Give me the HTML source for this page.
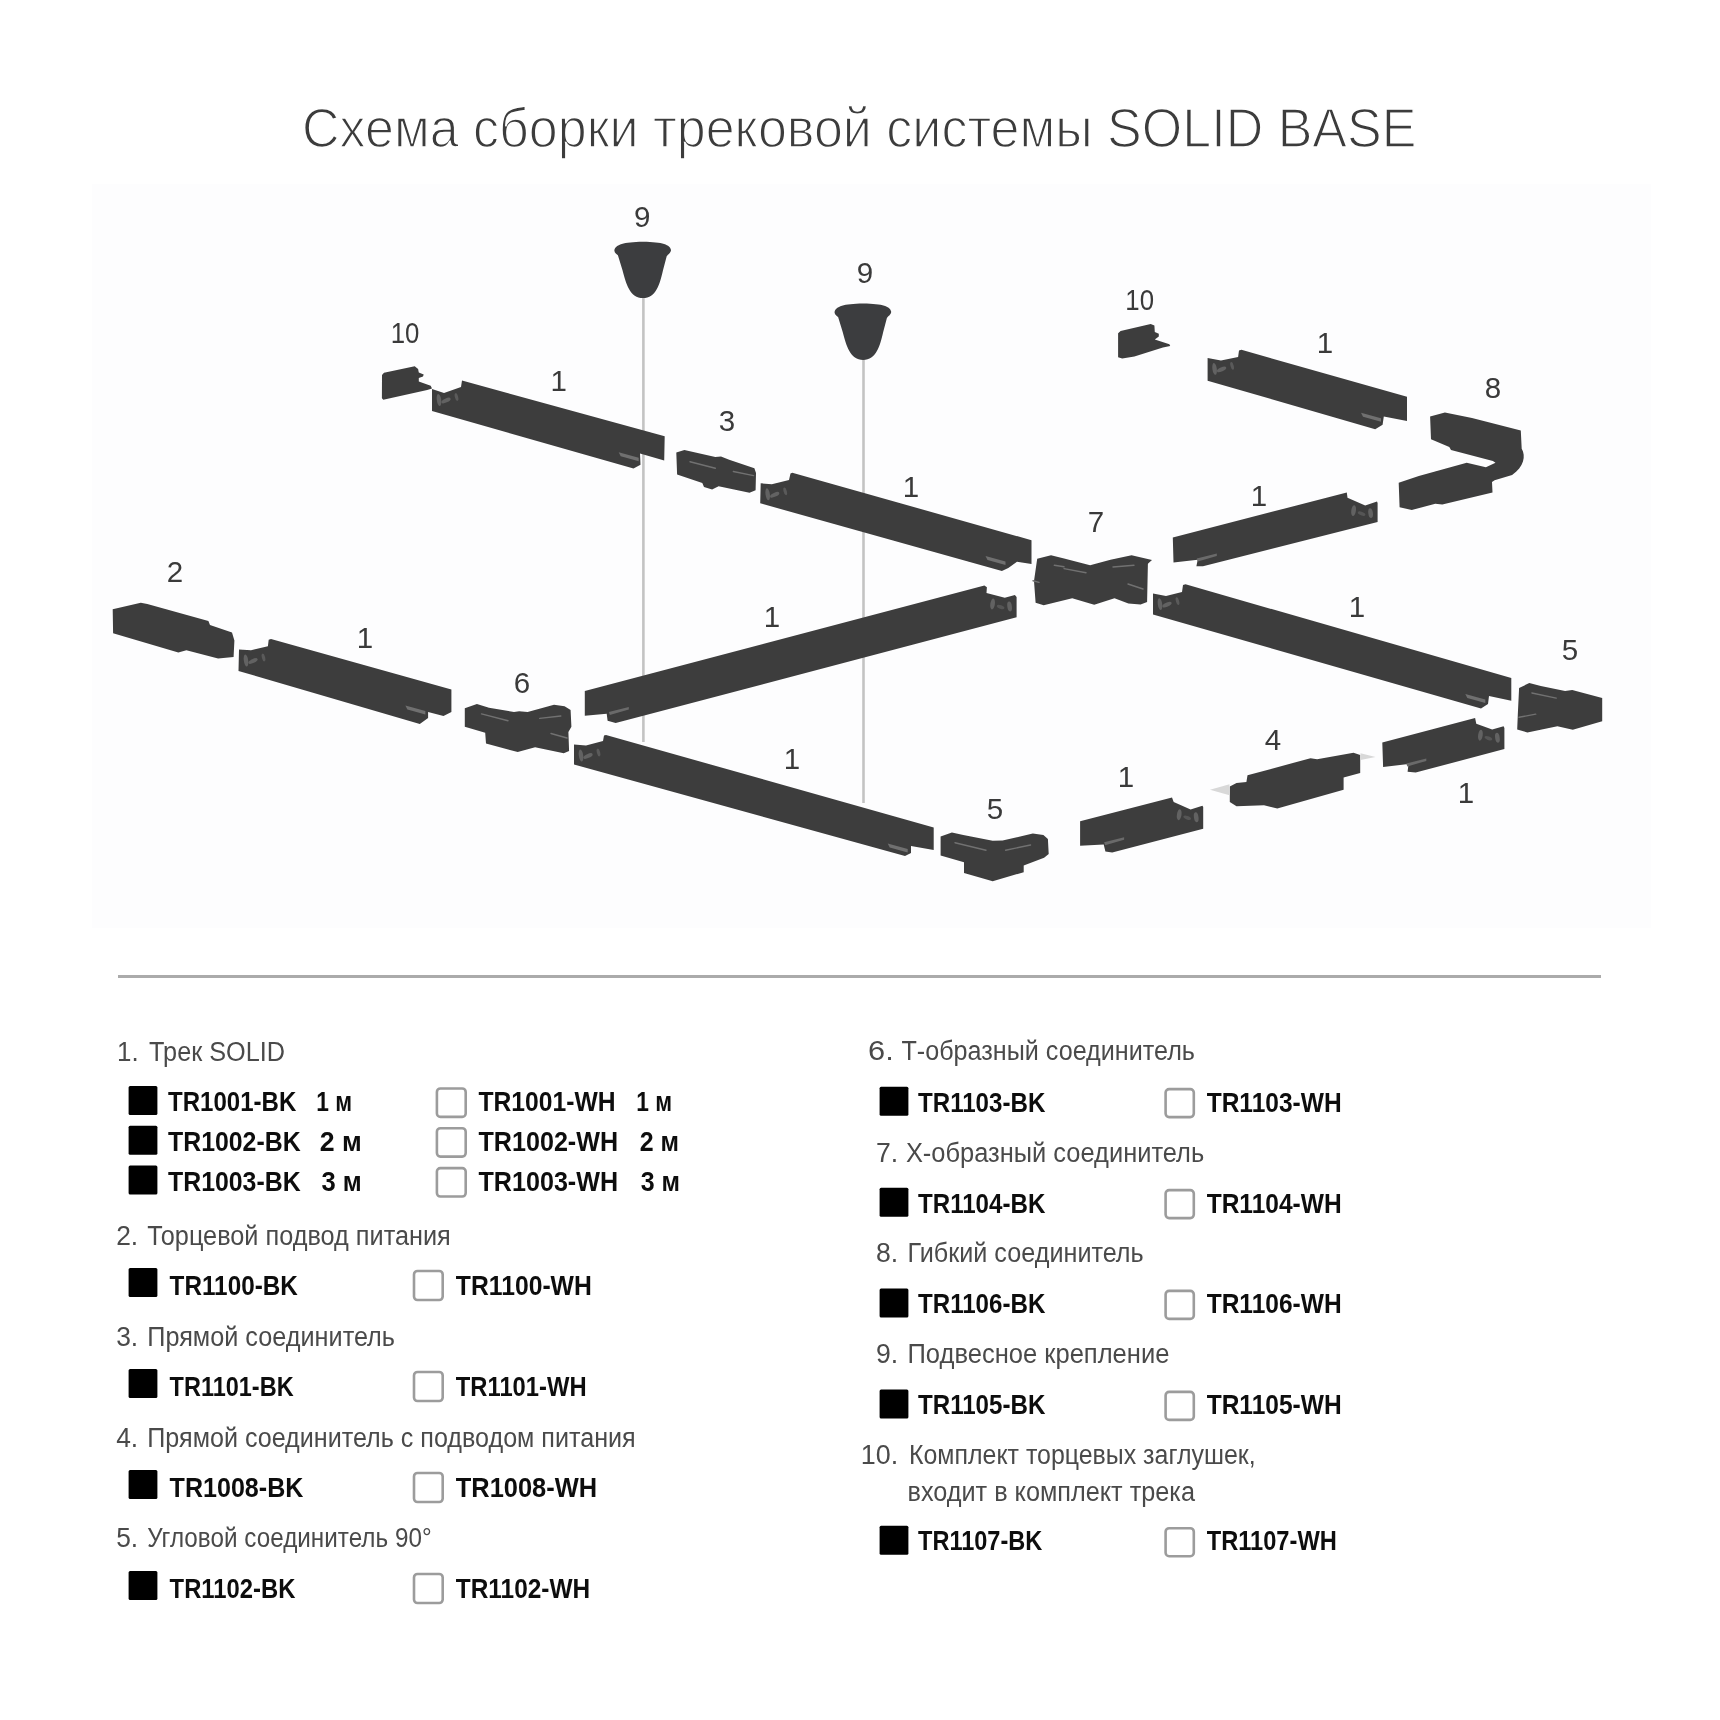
<!DOCTYPE html>
<html><head><meta charset="utf-8"><style>
html,body{margin:0;padding:0;background:#fff;}
body{width:1720px;height:1720px;overflow:hidden;}
svg{display:block;will-change:transform;}
text{font-family:"Liberation Sans",sans-serif;}
.title{font-size:56px;fill:#3c3c3c;stroke:#fff;stroke-width:1.5px;paint-order:normal;}
.lab{font-size:29.5px;fill:#3a3a3a;}
.hd{font-size:27px;fill:#4a4a4a;}
.cd{font-size:28px;font-weight:bold;fill:#0d0d0d;}
</style></head><body>
<svg width="1720" height="1720" viewBox="0 0 1720 1720">
<rect x="0" y="0" width="1720" height="1720" fill="#fff"/>
<rect x="92" y="184" width="1559" height="744" fill="#fdfdfe"/>
<rect x="118" y="975" width="1483" height="3" fill="#ababab"/>
<line x1="643.4" y1="296" x2="643.4" y2="742" stroke="#c3c3c3" stroke-width="2.6"/>
<line x1="863.5" y1="356" x2="863.5" y2="803" stroke="#c3c3c3" stroke-width="2.6"/>
<path d="M614.4,250.0 C616.0,244.8 623.0,242.1 643.0,241.8 C663.0,242.1 670.0,244.8 671.0,250.0 C671.0,252.8 667.5,254.8 666.7,256.2 L663.0,270.2 C660.0,283.8 656.0,298.1 643.0,298.1 C630.0,298.1 626.0,283.8 622.5,270.2 L617.9,255.3 C617.0,254.3 614.0,252.8 614.4,250.0 Z" fill="#3c3d3f"/>
<path d="M834.6,311.8 C836.2,306.6 843.2,303.9 863.2,303.6 C883.2,303.9 890.2,306.6 891.2,311.8 C891.2,314.6 887.7,316.6 886.9,318.0 L883.2,332.0 C880.2,345.6 876.2,359.9 863.2,359.9 C850.2,359.9 846.2,345.6 842.7,332.0 L838.1,317.1 C837.2,316.1 834.2,314.6 834.6,311.8 Z" fill="#3c3d3f"/>
<polygon points="382.0,375.0 384.0,372.8 414.7,366.2 418.1,369.0 418.8,372.4 423.7,374.5 423.0,376.6 418.8,378.0 418.8,381.5 430.7,385.7 432.0,388.5 427.2,389.9 383.3,399.7 381.9,398.3" fill="#3d3d3d"/>
<polygon points="432.0,389.0 444.0,393.0 461.0,387.0 462.0,380.5 664.7,436.3 664.2,460.5 640.0,453.5 640.5,464.7 633.5,468.4 432.0,411.0" fill="#3d3d3d"/>
<polygon points="676.3,452.4 684.4,450.0 715.3,456.9 721.0,456.5 729.2,459.7 754.4,468.3 756.0,473.1 755.6,490.2 749.5,492.7 718.6,486.2 712.1,489.4 704.0,487.0 702.3,482.9 677.1,474.4" fill="#3d3d3d"/>
<polygon points="760.7,483.3 771.9,484.2 789.0,480.0 790.5,473.5 792.3,472.8 1031.5,540.2 1031.5,564.0 1017.0,561.7 1008.3,568.1 1001.9,571.0 760.2,503.3" fill="#3d3d3d"/>
<polygon points="1037.2,558.8 1051.0,555.2 1064.1,558.4 1090.1,565.3 1110.5,559.7 1131.6,555.2 1152.0,560.1 1147.9,563.7 1147.1,602.0 1140.6,604.4 1128.4,603.6 1114.5,598.3 1094.2,604.8 1072.2,598.3 1043.7,605.2 1035.6,602.8 1034.0,581.0" fill="#3d3d3d"/>
<polygon points="1172.8,537.6 1346.8,492.4 1347.5,497.7 1365.2,505.5 1377.0,501.6 1377.6,503.0 1377.6,521.9 1203.0,566.3 1196.4,566.3 1197.7,559.8 1173.5,562.4" fill="#3d3d3d"/>
<polygon points="1118.1,333.3 1120.6,330.9 1150.7,324.0 1154.4,325.6 1154.8,332.1 1158.8,333.7 1158.8,336.6 1154.8,339.4 1169.4,344.3 1170.2,345.9 1162.9,347.6 1134.4,356.5 1122.2,358.5 1118.1,357.3" fill="#3d3d3d"/>
<polygon points="1207.6,357.9 1221.0,360.4 1238.1,357.1 1239.0,350.6 1241.4,349.8 1407.0,396.7 1407.0,421.1 1383.8,416.6 1382.6,424.8 1375.2,429.2 1207.6,380.7" fill="#3d3d3d"/>
<polygon points="584.8,691.0 984.4,585.6 986.9,587.2 986.5,592.9 1004.8,597.8 1014.9,595.0 1016.6,597.0 1016.6,617.3 615.7,723.1 607.6,720.7 606.7,713.8 584.8,715.8" fill="#3d3d3d"/>
<polygon points="1153.0,593.4 1166.0,596.0 1182.0,592.0 1183.0,585.0 1185.5,584.3 1511.3,678.0 1511.3,700.7 1489.0,696.0 1488.0,704.0 1481.0,708.5 1153.0,614.5" fill="#3d3d3d"/>
<polygon points="112.7,609.2 140.8,602.7 147.3,604.0 208.4,621.0 210.0,625.1 232.0,632.4 234.4,640.6 233.6,656.9 218.1,658.5 186.4,650.3 178.3,652.4 113.1,633.3" fill="#3d3d3d"/>
<polygon points="239.0,649.5 251.0,650.3 267.9,646.3 268.7,639.8 271.0,639.0 451.4,689.5 451.4,712.0 443.5,716.0 428.1,712.0 428.1,718.0 419.8,724.0 238.5,671.0" fill="#3d3d3d"/>
<polygon points="464.8,708.2 476.9,704.1 489.0,707.8 514.0,712.0 519.2,711.3 527.6,712.0 554.0,704.8 564.6,706.3 570.6,710.1 571.4,726.7 568.4,732.0 569.1,751.0 563.8,753.2 535.1,747.2 517.7,752.1 486.0,743.4 485.2,732.8 464.8,726.7" fill="#3d3d3d"/>
<polygon points="574.0,744.5 586.0,745.5 603.0,741.0 604.0,735.5 606.0,735.0 933.7,827.4 933.7,850.0 911.0,846.0 911.0,853.0 905.0,856.0 574.0,764.5" fill="#3d3d3d"/>
<polygon points="940.6,836.6 951.9,832.5 963.3,835.1 992.7,840.8 1002.6,840.4 1032.8,833.6 1043.4,835.1 1047.9,838.9 1048.7,854.0 1044.1,857.8 1023.7,865.4 1023.7,872.2 992.7,881.2 964.0,872.9 964.0,862.3 940.6,855.5" fill="#3d3d3d"/>
<polygon points="1080.1,821.3 1172.0,797.6 1173.7,801.9 1190.6,809.4 1202.4,805.7 1203.2,807.0 1203.2,828.8 1112.2,852.4 1105.4,851.6 1103.7,844.5 1080.1,845.7" fill="#3d3d3d"/>
<polygon points="1229.8,786.4 1236.5,783.1 1246.4,782.0 1247.5,775.3 1310.5,758.2 1317.1,759.3 1353.5,752.7 1360.2,754.9 1360.2,773.1 1343.6,777.6 1343.6,789.7 1277.3,808.5 1264.0,805.2 1236.5,806.3 1229.8,801.9" fill="#3d3d3d"/>
<polygon points="1382.3,742.4 1475.1,718.0 1476.3,723.7 1492.2,729.4 1503.6,726.2 1504.4,728.0 1504.4,749.0 1415.7,772.6 1407.6,771.7 1408.5,764.0 1383.1,766.9" fill="#3d3d3d"/>
<polygon points="1519.1,687.9 1529.3,683.1 1540.8,686.0 1565.1,691.1 1572.2,690.1 1602.2,698.1 1602.2,721.2 1572.8,729.8 1557.4,726.3 1527.4,732.4 1517.2,729.5 1517.8,714.8" fill="#3d3d3d"/>
<ellipse cx="439.0" cy="400.0" rx="2.2" ry="6.0" fill="#626262" transform="rotate(-8.0 439.0 400.0)"/>
<ellipse cx="446.0" cy="400.5" rx="5.0" ry="2.0" fill="#626262" transform="rotate(-25.0 446.0 400.5)"/>
<ellipse cx="456.5" cy="397.0" rx="1.6" ry="4.0" fill="#5a5a5a" transform="rotate(-15.0 456.5 397.0)"/>
<ellipse cx="767.7" cy="494.3" rx="2.2" ry="6.0" fill="#626262" transform="rotate(-8.0 767.7 494.3)"/>
<ellipse cx="774.7" cy="494.8" rx="5.0" ry="2.0" fill="#626262" transform="rotate(-25.0 774.7 494.8)"/>
<ellipse cx="785.2" cy="491.3" rx="1.6" ry="4.0" fill="#5a5a5a" transform="rotate(-15.0 785.2 491.3)"/>
<ellipse cx="1214.6" cy="368.9" rx="2.2" ry="6.0" fill="#626262" transform="rotate(-8.0 1214.6 368.9)"/>
<ellipse cx="1221.6" cy="369.4" rx="5.0" ry="2.0" fill="#626262" transform="rotate(-25.0 1221.6 369.4)"/>
<ellipse cx="1232.1" cy="365.9" rx="1.6" ry="4.0" fill="#5a5a5a" transform="rotate(-15.0 1232.1 365.9)"/>
<ellipse cx="1160.0" cy="604.1" rx="2.2" ry="6.0" fill="#626262" transform="rotate(-8.0 1160.0 604.1)"/>
<ellipse cx="1167.0" cy="604.6" rx="5.0" ry="2.0" fill="#626262" transform="rotate(-25.0 1167.0 604.6)"/>
<ellipse cx="1177.5" cy="601.1" rx="1.6" ry="4.0" fill="#5a5a5a" transform="rotate(-15.0 1177.5 601.1)"/>
<ellipse cx="246.0" cy="660.5" rx="2.2" ry="6.0" fill="#626262" transform="rotate(-8.0 246.0 660.5)"/>
<ellipse cx="253.0" cy="661.0" rx="5.0" ry="2.0" fill="#626262" transform="rotate(-25.0 253.0 661.0)"/>
<ellipse cx="263.5" cy="657.5" rx="1.6" ry="4.0" fill="#5a5a5a" transform="rotate(-15.0 263.5 657.5)"/>
<ellipse cx="581.0" cy="755.5" rx="2.2" ry="6.0" fill="#626262" transform="rotate(-8.0 581.0 755.5)"/>
<ellipse cx="588.0" cy="756.0" rx="5.0" ry="2.0" fill="#626262" transform="rotate(-25.0 588.0 756.0)"/>
<ellipse cx="598.5" cy="752.5" rx="1.6" ry="4.0" fill="#5a5a5a" transform="rotate(-15.0 598.5 752.5)"/>
<ellipse cx="1353.6" cy="510.6" rx="2.3" ry="5.5" fill="#626262" transform="rotate(8.0 1353.6 510.6)"/>
<ellipse cx="1370.6" cy="513.1" rx="2.3" ry="5.0" fill="#626262" transform="rotate(-8.0 1370.6 513.1)"/>
<ellipse cx="1361.6" cy="513.6" rx="4.0" ry="1.8" fill="#555" transform="rotate(20.0 1361.6 513.6)"/>
<ellipse cx="992.6" cy="604.0" rx="2.3" ry="5.5" fill="#626262" transform="rotate(8.0 992.6 604.0)"/>
<ellipse cx="1009.6" cy="606.5" rx="2.3" ry="5.0" fill="#626262" transform="rotate(-8.0 1009.6 606.5)"/>
<ellipse cx="1000.6" cy="607.0" rx="4.0" ry="1.8" fill="#555" transform="rotate(20.0 1000.6 607.0)"/>
<ellipse cx="1179.2" cy="814.7" rx="2.3" ry="5.5" fill="#626262" transform="rotate(8.0 1179.2 814.7)"/>
<ellipse cx="1196.2" cy="817.2" rx="2.3" ry="5.0" fill="#626262" transform="rotate(-8.0 1196.2 817.2)"/>
<ellipse cx="1187.2" cy="817.7" rx="4.0" ry="1.8" fill="#555" transform="rotate(20.0 1187.2 817.7)"/>
<ellipse cx="1480.4" cy="735.2" rx="2.3" ry="5.5" fill="#626262" transform="rotate(8.0 1480.4 735.2)"/>
<ellipse cx="1497.4" cy="737.7" rx="2.3" ry="5.0" fill="#626262" transform="rotate(-8.0 1497.4 737.7)"/>
<ellipse cx="1488.4" cy="738.2" rx="4.0" ry="1.8" fill="#555" transform="rotate(20.0 1488.4 738.2)"/>
<polygon points="618.7,452.3 638.7,457.8 638.7,461.3 620.7,456.3" fill="#707070"/>
<polygon points="985.5,556.0 1005.5,561.5 1005.5,565.0 987.5,560.0" fill="#707070"/>
<polygon points="1361.0,412.7 1381.0,418.2 1381.0,421.7 1363.0,416.7" fill="#707070"/>
<polygon points="1465.3,694.0 1485.3,699.5 1485.3,703.0 1467.3,698.0" fill="#707070"/>
<polygon points="405.4,705.5 425.4,711.0 425.4,714.5 407.4,709.5" fill="#707070"/>
<polygon points="887.7,843.4 907.7,848.9 907.7,852.4 889.7,847.4" fill="#707070"/>
<polygon points="608.8,712.0 628.8,707.0 628.8,709.5 609.8,715.0" fill="#6a6a6a"/>
<polygon points="1104.1,842.3 1124.1,837.3 1124.1,839.8 1105.1,845.3" fill="#6a6a6a"/>
<polygon points="1406.3,763.4 1426.3,758.4 1426.3,760.9 1407.3,766.4" fill="#6a6a6a"/>
<polygon points="1196.8,558.6 1216.8,553.6 1216.8,556.1 1197.8,561.6" fill="#6a6a6a"/>
<line x1="1054.3" y1="565.3" x2="1064.0" y2="566.8" stroke="#717171" stroke-width="1.4" stroke-linecap="round"/>
<line x1="1064.0" y1="568.6" x2="1086.0" y2="572.7" stroke="#717171" stroke-width="1.4" stroke-linecap="round"/>
<line x1="1113.0" y1="567.0" x2="1134.0" y2="565.3" stroke="#717171" stroke-width="1.4" stroke-linecap="round"/>
<line x1="1128.0" y1="584.0" x2="1143.0" y2="589.0" stroke="#717171" stroke-width="1.4" stroke-linecap="round"/>
<line x1="1033.0" y1="580.8" x2="1039.0" y2="582.4" stroke="#717171" stroke-width="1.4" stroke-linecap="round"/>
<line x1="481.5" y1="713.9" x2="508.0" y2="720.7" stroke="#717171" stroke-width="1.4" stroke-linecap="round"/>
<line x1="539.7" y1="718.4" x2="560.8" y2="716.0" stroke="#717171" stroke-width="1.4" stroke-linecap="round"/>
<line x1="551.0" y1="733.5" x2="567.0" y2="738.0" stroke="#717171" stroke-width="1.4" stroke-linecap="round"/>
<line x1="955.0" y1="842.7" x2="986.0" y2="850.2" stroke="#717171" stroke-width="1.4" stroke-linecap="round"/>
<line x1="1005.6" y1="850.2" x2="1030.5" y2="845.0" stroke="#717171" stroke-width="1.4" stroke-linecap="round"/>
<line x1="1531.9" y1="693.0" x2="1556.2" y2="698.1" stroke="#717171" stroke-width="1.4" stroke-linecap="round"/>
<line x1="1519.0" y1="717.3" x2="1535.7" y2="714.1" stroke="#717171" stroke-width="1.4" stroke-linecap="round"/>
<line x1="690.0" y1="461.7" x2="715.3" y2="468.3" stroke="#717171" stroke-width="1.4" stroke-linecap="round"/>
<line x1="733.3" y1="471.5" x2="753.6" y2="475.6" stroke="#717171" stroke-width="1.4" stroke-linecap="round"/>
<path d="M1430.1,416.6 L1444.9,412.6 L1472,417.9 L1520.8,430.5 L1521.7,448.8 C1526,456 1524,467 1512.1,475 L1494.6,480.2 L1492,482 L1492.5,492.4 L1442.3,504.6 L1435.3,503.8 L1411.8,509.9 L1399.6,507.3 L1398.7,482.8 L1418.8,475.9 L1466.7,462.8 L1485.9,467.2 L1495.5,462.8 L1492.9,461 L1451,450.1 L1449.3,447.1 L1431,439.2 Z" fill="#3d3d3d"/>
<polygon points="1210,789.7 1229.5,784.2 1229.5,795.2" fill="#d8d8d8"/>
<polygon points="1360.5,753.3 1375.6,757.1 1360.5,760" fill="#d8d8d8"/>
<text x="642.2" y="226.5" text-anchor="middle" class="lab">9</text>
<text x="865.0" y="282.5" text-anchor="middle" class="lab">9</text>
<text x="405.0" y="342.5" text-anchor="middle" class="lab" textLength="28.7" lengthAdjust="spacingAndGlyphs">10</text>
<text x="558.6" y="390.5" text-anchor="middle" class="lab">1</text>
<text x="727.0" y="430.5" text-anchor="middle" class="lab">3</text>
<text x="911.0" y="496.5" text-anchor="middle" class="lab">1</text>
<text x="1096.0" y="531.5" text-anchor="middle" class="lab">7</text>
<text x="1139.7" y="309.5" text-anchor="middle" class="lab" textLength="28.7" lengthAdjust="spacingAndGlyphs">10</text>
<text x="1325.0" y="352.5" text-anchor="middle" class="lab">1</text>
<text x="1493.0" y="397.5" text-anchor="middle" class="lab">8</text>
<text x="1259.0" y="505.5" text-anchor="middle" class="lab">1</text>
<text x="175.0" y="581.5" text-anchor="middle" class="lab">2</text>
<text x="365.0" y="647.5" text-anchor="middle" class="lab">1</text>
<text x="772.0" y="626.5" text-anchor="middle" class="lab">1</text>
<text x="1357.0" y="616.5" text-anchor="middle" class="lab">1</text>
<text x="522.0" y="692.5" text-anchor="middle" class="lab">6</text>
<text x="1570.0" y="659.5" text-anchor="middle" class="lab">5</text>
<text x="792.0" y="768.5" text-anchor="middle" class="lab">1</text>
<text x="1273.0" y="749.5" text-anchor="middle" class="lab">4</text>
<text x="995.0" y="818.5" text-anchor="middle" class="lab">5</text>
<text x="1126.0" y="786.5" text-anchor="middle" class="lab">1</text>
<text x="1466.0" y="802.5" text-anchor="middle" class="lab">1</text>
<rect x="128.6" y="1086.0" width="28.8" height="29.0" rx="1.5" fill="#000"/>
<rect x="436.9" y="1088.5" width="28.8" height="28.4" rx="3.5" fill="none" stroke="#9c9c9c" stroke-width="2.6"/>
<rect x="128.6" y="1125.7" width="28.8" height="29.0" rx="1.5" fill="#000"/>
<rect x="436.9" y="1128.2" width="28.8" height="28.4" rx="3.5" fill="none" stroke="#9c9c9c" stroke-width="2.6"/>
<rect x="128.6" y="1165.6" width="28.8" height="29.0" rx="1.5" fill="#000"/>
<rect x="436.9" y="1168.1" width="28.8" height="28.4" rx="3.5" fill="none" stroke="#9c9c9c" stroke-width="2.6"/>
<rect x="128.6" y="1268.0" width="28.8" height="29.0" rx="1.5" fill="#000"/>
<rect x="414.0" y="1271.0" width="28.7" height="29.0" rx="3.5" fill="none" stroke="#9c9c9c" stroke-width="2.6"/>
<rect x="128.6" y="1369.0" width="28.8" height="29.0" rx="1.5" fill="#000"/>
<rect x="414.0" y="1372.0" width="28.7" height="29.0" rx="3.5" fill="none" stroke="#9c9c9c" stroke-width="2.6"/>
<rect x="128.6" y="1470.0" width="28.8" height="29.0" rx="1.5" fill="#000"/>
<rect x="414.0" y="1473.0" width="28.7" height="29.0" rx="3.5" fill="none" stroke="#9c9c9c" stroke-width="2.6"/>
<rect x="128.6" y="1571.0" width="28.8" height="29.0" rx="1.5" fill="#000"/>
<rect x="414.0" y="1574.0" width="28.7" height="29.0" rx="3.5" fill="none" stroke="#9c9c9c" stroke-width="2.6"/>
<rect x="879.6" y="1086.7" width="28.8" height="29.0" rx="1.5" fill="#000"/>
<rect x="1165.6" y="1089.1" width="28.2" height="28.0" rx="3.5" fill="none" stroke="#9c9c9c" stroke-width="2.6"/>
<rect x="879.6" y="1187.7" width="28.8" height="29.0" rx="1.5" fill="#000"/>
<rect x="1165.6" y="1190.1" width="28.2" height="28.0" rx="3.5" fill="none" stroke="#9c9c9c" stroke-width="2.6"/>
<rect x="879.6" y="1288.5" width="28.8" height="29.0" rx="1.5" fill="#000"/>
<rect x="1165.6" y="1290.9" width="28.2" height="28.0" rx="3.5" fill="none" stroke="#9c9c9c" stroke-width="2.6"/>
<rect x="879.6" y="1389.5" width="28.8" height="29.0" rx="1.5" fill="#000"/>
<rect x="1165.6" y="1391.9" width="28.2" height="28.0" rx="3.5" fill="none" stroke="#9c9c9c" stroke-width="2.6"/>
<rect x="879.6" y="1525.8" width="28.8" height="29.0" rx="1.5" fill="#000"/>
<rect x="1165.6" y="1528.2" width="28.2" height="28.0" rx="3.5" fill="none" stroke="#9c9c9c" stroke-width="2.6"/>
<text x="302.0" y="147.0" class="title" textLength="1114.4" lengthAdjust="spacingAndGlyphs">Схема сборки трековой системы SOLID BASE</text>
<text x="117.1" y="1061.4" class="hd" textLength="21.6" lengthAdjust="spacingAndGlyphs">1.</text>
<text x="149.1" y="1061.4" class="hd" textLength="135.9" lengthAdjust="spacingAndGlyphs">Трек SOLID</text>
<text x="116.2" y="1244.5" class="hd" textLength="22.0" lengthAdjust="spacingAndGlyphs">2.</text>
<text x="147.3" y="1244.5" class="hd" textLength="303.5" lengthAdjust="spacingAndGlyphs">Торцевой подвод питания</text>
<text x="116.2" y="1346.0" class="hd" textLength="22.0" lengthAdjust="spacingAndGlyphs">3.</text>
<text x="147.3" y="1346.0" class="hd" textLength="247.7" lengthAdjust="spacingAndGlyphs">Прямой соединитель</text>
<text x="116.2" y="1446.6" class="hd" textLength="22.0" lengthAdjust="spacingAndGlyphs">4.</text>
<text x="147.3" y="1446.6" class="hd" textLength="488.4" lengthAdjust="spacingAndGlyphs">Прямой соединитель с подводом питания</text>
<text x="116.2" y="1546.7" class="hd" textLength="22.0" lengthAdjust="spacingAndGlyphs">5.</text>
<text x="147.3" y="1546.7" class="hd" textLength="284.3" lengthAdjust="spacingAndGlyphs">Угловой соединитель 90°</text>
<text x="868.0" y="1060.2" class="hd" textLength="25.7" lengthAdjust="spacingAndGlyphs">6.</text>
<text x="901.4" y="1060.2" class="hd" textLength="293.6" lengthAdjust="spacingAndGlyphs">Т-образный соединитель</text>
<text x="876.0" y="1161.5" class="hd" textLength="22.2" lengthAdjust="spacingAndGlyphs">7.</text>
<text x="905.9" y="1161.5" class="hd" textLength="298.3" lengthAdjust="spacingAndGlyphs">Х-образный соединитель</text>
<text x="876.0" y="1261.7" class="hd" textLength="22.2" lengthAdjust="spacingAndGlyphs">8.</text>
<text x="907.5" y="1261.7" class="hd" textLength="236.2" lengthAdjust="spacingAndGlyphs">Гибкий соединитель</text>
<text x="876.0" y="1363.0" class="hd" textLength="22.2" lengthAdjust="spacingAndGlyphs">9.</text>
<text x="907.5" y="1363.0" class="hd" textLength="261.9" lengthAdjust="spacingAndGlyphs">Подвесное крепление</text>
<text x="860.8" y="1463.9" class="hd" textLength="37.4" lengthAdjust="spacingAndGlyphs">10.</text>
<text x="909.0" y="1463.9" class="hd" textLength="346.6" lengthAdjust="spacingAndGlyphs">Комплект торцевых заглушек,</text>
<text x="907.5" y="1501.0" class="hd" textLength="287.5" lengthAdjust="spacingAndGlyphs">входит в комплект трека</text>
<text x="168.0" y="1111.2" class="cd" textLength="128.3" lengthAdjust="spacingAndGlyphs">TR1001-BK</text>
<text x="316.3" y="1111.2" class="cd" textLength="35.8" lengthAdjust="spacingAndGlyphs">1 м</text>
<text x="478.5" y="1111.2" class="cd" textLength="137.0" lengthAdjust="spacingAndGlyphs">TR1001-WH</text>
<text x="636.3" y="1111.2" class="cd" textLength="35.8" lengthAdjust="spacingAndGlyphs">1 м</text>
<text x="168.0" y="1151.2" class="cd" textLength="132.6" lengthAdjust="spacingAndGlyphs">TR1002-BK</text>
<text x="319.7" y="1151.2" class="cd" textLength="42.0" lengthAdjust="spacingAndGlyphs">2 м</text>
<text x="478.5" y="1151.2" class="cd" textLength="139.6" lengthAdjust="spacingAndGlyphs">TR1002-WH</text>
<text x="639.8" y="1151.2" class="cd" textLength="39.3" lengthAdjust="spacingAndGlyphs">2 м</text>
<text x="168.0" y="1191.3" class="cd" textLength="132.6" lengthAdjust="spacingAndGlyphs">TR1003-BK</text>
<text x="321.5" y="1191.3" class="cd" textLength="40.3" lengthAdjust="spacingAndGlyphs">3 м</text>
<text x="478.5" y="1191.3" class="cd" textLength="139.6" lengthAdjust="spacingAndGlyphs">TR1003-WH</text>
<text x="640.7" y="1191.3" class="cd" textLength="39.3" lengthAdjust="spacingAndGlyphs">3 м</text>
<text x="169.6" y="1294.9" class="cd" textLength="128.2" lengthAdjust="spacingAndGlyphs">TR1100-BK</text>
<text x="455.8" y="1294.9" class="cd" textLength="136.0" lengthAdjust="spacingAndGlyphs">TR1100-WH</text>
<text x="169.6" y="1395.9" class="cd" textLength="124.0" lengthAdjust="spacingAndGlyphs">TR1101-BK</text>
<text x="455.8" y="1395.9" class="cd" textLength="130.8" lengthAdjust="spacingAndGlyphs">TR1101-WH</text>
<text x="169.6" y="1496.9" class="cd" textLength="133.8" lengthAdjust="spacingAndGlyphs">TR1008-BK</text>
<text x="455.8" y="1496.9" class="cd" textLength="141.3" lengthAdjust="spacingAndGlyphs">TR1008-WH</text>
<text x="169.6" y="1597.9" class="cd" textLength="125.8" lengthAdjust="spacingAndGlyphs">TR1102-BK</text>
<text x="455.8" y="1597.9" class="cd" textLength="134.3" lengthAdjust="spacingAndGlyphs">TR1102-WH</text>
<text x="918.0" y="1111.6" class="cd" textLength="127.3" lengthAdjust="spacingAndGlyphs">TR1103-BK</text>
<text x="1206.7" y="1111.6" class="cd" textLength="134.9" lengthAdjust="spacingAndGlyphs">TR1103-WH</text>
<text x="918.0" y="1212.6" class="cd" textLength="127.3" lengthAdjust="spacingAndGlyphs">TR1104-BK</text>
<text x="1206.7" y="1212.6" class="cd" textLength="134.9" lengthAdjust="spacingAndGlyphs">TR1104-WH</text>
<text x="918.0" y="1313.2" class="cd" textLength="127.3" lengthAdjust="spacingAndGlyphs">TR1106-BK</text>
<text x="1206.7" y="1313.2" class="cd" textLength="134.9" lengthAdjust="spacingAndGlyphs">TR1106-WH</text>
<text x="918.0" y="1414.0" class="cd" textLength="127.3" lengthAdjust="spacingAndGlyphs">TR1105-BK</text>
<text x="1206.7" y="1414.0" class="cd" textLength="134.9" lengthAdjust="spacingAndGlyphs">TR1105-WH</text>
<text x="918.0" y="1550.3" class="cd" textLength="124.3" lengthAdjust="spacingAndGlyphs">TR1107-BK</text>
<text x="1206.7" y="1550.3" class="cd" textLength="130.1" lengthAdjust="spacingAndGlyphs">TR1107-WH</text>
</svg>
</body></html>
